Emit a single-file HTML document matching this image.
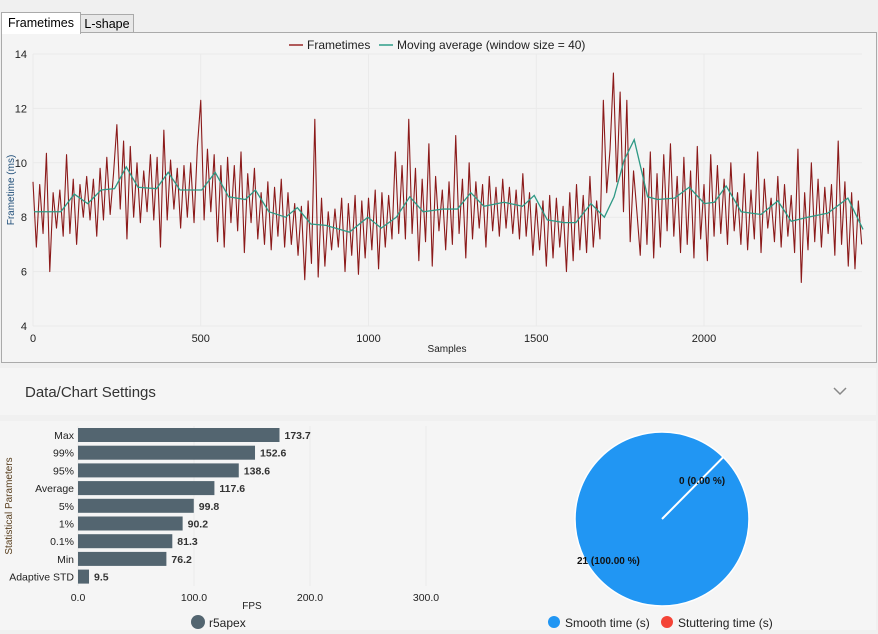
<!DOCTYPE html>
<html><head><meta charset="utf-8"><style>
body{margin:0;width:878px;height:634px;background:#f0f0f0;font-family:"Liberation Sans",sans-serif;position:relative;overflow:hidden}
.abs{position:absolute}
</style></head><body>
<div class="abs" style="left:1px;top:12px;width:78px;height:21px;background:#fff;border:1px solid #aaa;border-bottom:none;font-size:12.5px;line-height:20px;text-align:center;z-index:2">Frametimes</div>
<div class="abs" style="left:80px;top:14px;width:52px;height:18px;background:#e8e8e8;border:1px solid #aaa;font-size:12.5px;line-height:18px;text-align:center">L-shape</div>
<div class="abs" style="left:1px;top:32px;width:874px;height:329px;background:#f4f4f4;border:1px solid #aaa"></div>
<div class="abs" style="left:0;top:368px;width:876px;height:47px;background:#f5f5f5">
<span class="abs" style="left:25px;top:16px;font-size:15px;color:#333">Data/Chart Settings</span>
<svg class="abs" style="left:832px;top:18px" width="16" height="10"><path d="M2 2 L8 8 L14 2" fill="none" stroke="#888" stroke-width="1.5"/></svg>
</div>
<div class="abs" style="left:0;top:421px;width:876px;height:209px;background:#f5f5f5"></div>
<svg class="abs" style="left:0;top:0" width="878" height="634" id="svg"></svg>
<script>
const ftValues=[9.3,6.9,9.2,7.4,10.35,6.0,8.9,7.6,9.0,7.3,
10.3,7.4,9.4,7.0,9.2,8.0,9.5,7.9,9.4,7.3,
9.8,7.9,10.2,8.1,9.6,11.4,8.3,10.8,7.2,10.6,
8.0,10.0,7.8,9.7,8.2,10.3,7.9,10.2,6.9,11.2,
7.9,10.1,8.3,9.8,7.6,9.9,8.0,10.0,7.8,10.6,
12.3,7.9,10.5,8.2,10.3,7.1,9.9,6.9,10.2,7.8,
9.9,7.5,10.4,6.7,9.6,7.8,9.8,7.2,8.9,7.0,
9.3,6.8,9.1,7.3,9.4,6.9,8.9,7.0,8.5,6.6,
8.4,5.7,8.6,6.3,11.6,5.8,8.7,6.2,8.2,6.8,
8.3,6.9,8.7,6.0,8.5,6.6,8.8,5.9,8.6,6.5,
8.7,6.8,9.0,6.1,8.9,6.9,8.8,7.2,10.4,7.4,
9.9,7.2,11.6,7.4,9.8,6.4,9.4,7.1,10.7,6.2,
9.5,7.5,9.0,6.8,9.3,7.0,11.0,7.4,9.4,6.5,
10.0,7.2,9.3,7.6,9.2,6.9,9.5,7.5,9.1,7.3,
9.4,7.6,9.1,7.4,9.0,7.2,9.6,7.3,8.9,6.6,
8.5,6.8,8.6,6.2,8.8,6.5,8.7,6.9,8.4,6.0,
8.9,6.4,9.2,6.8,8.8,6.7,9.5,6.9,8.6,7.2,
12.3,8.9,10.5,13.3,9.3,12.6,8.2,12.3,7.1,9.7,
8.2,6.6,9.8,7.0,10.4,6.5,9.6,6.9,10.3,7.5,
10.7,7.3,9.5,6.7,10.2,7.0,9.7,6.5,10.6,7.2,
9.2,6.4,10.3,7.3,9.9,7.4,9.4,7.0,10.0,7.5,
8.9,7.0,9.6,6.8,9.0,7.2,10.4,6.7,9.4,7.6,
8.7,7.1,9.5,6.9,9.2,7.3,8.8,6.7,10.5,5.6,
8.9,6.8,10.0,7.1,9.4,6.9,9.1,7.4,9.2,6.6,
10.8,7.0,9.3,6.2,8.9,6.1,8.6,7.0];
const ftStep=10;
const maSamples=[3,83,123,163,203,243,278,313,368,403,438,503,543,583,633,663,703,753,788,828,873,943,998,1038,1083,1123,1163,1223,1265,1305,1344,1404,1459,1494,1533,1583,1618,1663,1703,1732,1762,1792,1832,1862,1912,1956,2001,2031,2066,2111,2170,2220,2260,2309,2369,2429,2474];
const maValues=[8.2,8.2,8.85,8.5,9.0,9.05,9.85,9.1,9.05,9.65,9.0,9.0,9.65,8.75,8.65,9.0,8.2,8.0,8.35,7.75,7.7,7.45,8.0,7.6,8.0,8.75,8.2,8.3,8.3,8.9,8.4,8.55,8.4,8.8,7.9,7.8,7.8,8.5,8.0,8.75,10.1,10.85,8.75,8.65,8.7,9.1,8.5,8.55,9.15,8.2,8.1,8.6,7.85,8.0,8.15,8.7,7.55];
const xTicks=[0,500,1000,1500,2000];
const yTicks=[4,6,8,10,12,14];
const barLabels=["Max","99%","95%","Average","5%","1%","0.1%","Min","Adaptive STD"];
const barValues=[173.7,152.6,138.6,117.6,99.8,90.2,81.3,76.2,9.5];
const fpsTicks=[0,100,200,300];
const pieLabels=["Smooth time (s)","Stuttering time (s)"];
const pieValues=[21,0];

const S=document.getElementById('svg'),NS='http://www.w3.org/2000/svg';
function mk(t,a,p){const e=document.createElementNS(NS,t);for(const k in a)e.setAttribute(k,a[k]);(p||S).appendChild(e);return e;}
function tx(x,y,s,a){const e=mk('text',Object.assign({x:x,y:y},a||{}));e.textContent=s;return e;}
const X=s=>33+s*0.3355, Y=v=>326-(v-4)*27.2;
// grid
yTicks.forEach(v=>{const l=mk('line',{x1:33,x2:862,y1:Y(v),y2:Y(v),stroke:'#eaeaea'});


const t=tx(27,Y(v)+4,v,{'font-size':11,'text-anchor':'end',fill:'#222'});

});
xTicks.forEach(v=>{const l=mk('line',{x1:X(v),x2:X(v),y1:54,y2:326,stroke:'#eaeaea'});


const t=tx(X(v),342,v,{'font-size':11,'text-anchor':'middle',fill:'#222'});

});
let t=tx(447,352,'Samples',{'font-size':10,'text-anchor':'middle',fill:'#222'});


t=tx(0,0,'Frametime (ms)',{'font-size':10,'text-anchor':'middle',fill:'#1f4e79',transform:'translate(14,190) rotate(-90)'});


let p=mk('polyline',{points:ftValues.map((v,i)=>X(i*ftStep)+','+Y(v)).join(' '),fill:'none',stroke:'#8b1a1a','stroke-width':1.1,'stroke-linejoin':'round'});


p=mk('polyline',{points:maValues.map((v,i)=>X(maSamples[i])+','+Y(v)).join(' '),fill:'none',stroke:'#2e9985','stroke-width':1.3});


// legend
let g=mk('g',{});
mk('line',{x1:289,x2:303,y1:45,y2:45,stroke:'#b05a5a','stroke-width':2},g);tx(307,49,'Frametimes',{'font-size':12,fill:'#222'},g);
g=mk('g',{});
mk('line',{x1:379,x2:393,y1:45,y2:45,stroke:'#5fb3a3','stroke-width':2},g);tx(397,49,'Moving average (window size = 40)',{'font-size':12,fill:'#222'},g);
// bar chart
const BX=v=>78+v*1.16, BY=i=>435+i*17.7;
fpsTicks.forEach(v=>{const l=mk('line',{x1:BX(v),x2:BX(v),y1:426,y2:586,stroke:'#ececec'});


const t=tx(BX(v),601,v.toFixed(1),{'font-size':10.5,'text-anchor':'middle',fill:'#222'});

});
barLabels.forEach((lab,i)=>{
const r=mk('rect',{x:78,y:BY(i)-7,width:BX(barValues[i])-78,height:14,fill:'#536570'});


const a=tx(74,BY(i)+4,lab,{'font-size':10.5,'text-anchor':'end',fill:'#222'});


const b=tx(BX(barValues[i])+5,BY(i)+4,barValues[i],{'font-size':10.5,'font-weight':'bold',fill:'#333'});

});
t=tx(252,609,'FPS',{'font-size':10,'text-anchor':'middle',fill:'#222'});


t=tx(0,0,'Statistical Parameters',{'font-size':10,'text-anchor':'middle',fill:'#5a4020',transform:'translate(12,506) rotate(-90)'});


g=mk('g',{});
mk('circle',{cx:198,cy:622,r:7,fill:'#536570'},g);tx(209,627,'r5apex',{'font-size':12,fill:'#222'},g);
// pie
const cx=662,cy=519,R=87,tot=pieValues.reduce((a,b)=>a+b,0);
const c=mk('circle',{cx:cx,cy:cy,r:R,fill:'#2196f3',stroke:'#fff','stroke-width':1.5});


const ang=-Math.PI/2+2*Math.PI*(pieValues[1]/tot)+0.78;
const sep=mk('line',{x1:cx,y1:cy,x2:cx+R*Math.cos(ang),y2:cy+R*Math.sin(ang),stroke:'#fff','stroke-width':2});


t=tx(679,484,pieValues[1]+' ('+(pieValues[1]/tot*100).toFixed(2)+' %)',{'font-size':10,'font-weight':'bold',fill:'#111'});


t=tx(577,564,pieValues[0]+' ('+(pieValues[0]/tot*100).toFixed(2)+' %)',{'font-size':10,'font-weight':'bold',fill:'#111'});


g=mk('g',{});
mk('circle',{cx:554,cy:622,r:6,fill:'#2196f3'},g);tx(565,627,pieLabels[0],{'font-size':12,fill:'#222'},g);
g=mk('g',{});
mk('circle',{cx:667,cy:622,r:6,fill:'#f44336'},g);tx(678,627,pieLabels[1],{'font-size':12,fill:'#222'},g);
</script>
</body></html>
